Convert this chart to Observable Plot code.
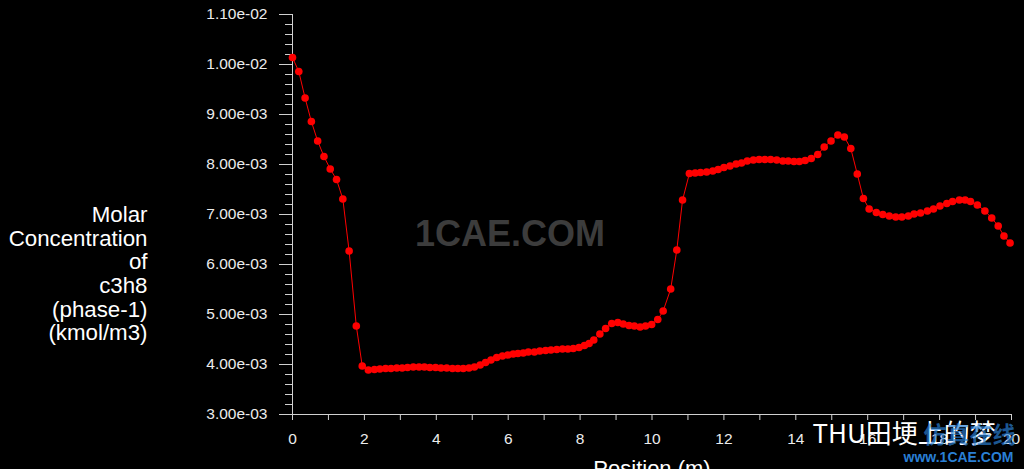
<!DOCTYPE html>
<html>
<head>
<meta charset="utf-8">
<script src="https://cdn.jsdelivr.net/npm/d3@7"></script>
<script src="https://cdn.jsdelivr.net/npm/@observablehq/plot@0.6"></script>
<style>
  html, body { margin: 0; padding: 0; background: #000; }
</style>
</head>
<body>
<div id="chart"></div>
<script>
// Position along the line (m)
const position = [
  0, 0.175, 0.35, 0.525, 0.7, 0.875, 1.05, 1.225, 1.4, 1.575, 1.775, 1.94,
  2.11, 2.28, 2.43, 2.59, 2.74, 2.90, 3.05, 3.20, 3.36, 3.52, 3.67, 3.82, 3.98,
  4.13, 4.29, 4.45, 4.60, 4.75, 4.91, 5.06, 5.22, 5.37, 5.52, 5.68, 5.84, 5.99,
  6.14, 6.27, 6.42, 6.56, 6.73, 6.88, 7.04, 7.19, 7.35, 7.51, 7.66, 7.81, 7.97,
  8.12, 8.25, 8.38, 8.55, 8.71, 8.88, 9.05, 9.20, 9.36, 9.51, 9.67, 9.82, 9.99,
  10.16, 10.31, 10.52, 10.69, 10.85, 11.04, 11.20, 11.35, 11.52, 11.69, 11.84,
  12.00, 12.17, 12.34, 12.49, 12.65, 12.82, 12.98, 13.14, 13.30, 13.47, 13.64,
  13.79, 13.95, 14.10, 14.26, 14.43, 14.61, 14.79, 14.98, 15.17, 15.35, 15.53,
  15.71, 15.88, 16.04, 16.24, 16.42, 16.60, 16.78, 16.95, 17.13, 17.29, 17.47,
  17.66, 17.83, 18.01, 18.20, 18.36, 18.55, 18.71, 18.86, 19.05, 19.26, 19.45,
  19.63, 19.79, 19.96
];
// Molar concentration of c3h8 (phase-1), kmol/m3
const concentration = [
  0.01014, 0.00986, 0.00933, 0.00886, 0.00847, 0.00816, 0.00791, 0.00770, 0.00731, 0.00627, 0.00477, 0.00397,
  0.00389, 0.00390, 0.00391, 0.00392, 0.00392, 0.00393, 0.00393, 0.00394, 0.00395, 0.00395, 0.00395, 0.00394, 0.00394,
  0.00393, 0.00393, 0.00392, 0.00392, 0.00392, 0.00393, 0.00395, 0.00399, 0.00404, 0.00409, 0.00414, 0.00417, 0.00419,
  0.00421, 0.00422, 0.00423, 0.00425, 0.00425, 0.00427, 0.00428, 0.00429, 0.00430, 0.00431, 0.00431, 0.00432, 0.00434,
  0.00438, 0.00442, 0.00449, 0.00461, 0.00472, 0.00482, 0.00484, 0.00481, 0.00478, 0.00477, 0.00475, 0.00477, 0.00480,
  0.00490, 0.00507, 0.00551, 0.00629, 0.00729, 0.00782, 0.00783, 0.00784, 0.00785, 0.00787, 0.00790,
  0.00794, 0.00797, 0.00801, 0.00803, 0.00807, 0.00809, 0.00810, 0.00810, 0.00810, 0.00809, 0.00807,
  0.00807, 0.00806, 0.00806, 0.00808, 0.00812, 0.00820, 0.00835, 0.00847, 0.00859, 0.00855, 0.00832,
  0.00781, 0.00732, 0.00711, 0.00704, 0.00700, 0.00697, 0.00695, 0.00695, 0.00697, 0.00701, 0.00703,
  0.00707, 0.00711, 0.00717, 0.00722, 0.00726, 0.00729, 0.00729, 0.00726, 0.00719, 0.00707, 0.00693,
  0.00677, 0.00657, 0.00643
];

const xTicks = [0, 2, 4, 6, 8, 10, 12, 14, 16, 18, 20];
const xMinorTicks = [1, 3, 5, 7, 9, 11, 13, 15, 17, 19];
const yTicks = [0.003, 0.004, 0.005, 0.006, 0.007, 0.008, 0.009, 0.010, 0.011];
const yMinorTicks = d3.ticks(0.003, 0.011, 40);

const yLabel = "Molar\nConcentration\nof\nc3h8\n(phase-1)\n(kmol/m3)";
const xLabel = "Position (m)";
const watermark = "1CAE.COM";
const overlayText = "THU田埂上的梦";
const overlayBlue = "仿真在线";
const overlaySite = "www.1CAE.COM";

const data = position.map((p, i) => ({x: p, y: concentration[i]}));
const fmt = v => v.toExponential(2).replace(/e([+-])(\d)$/, "e$10$2");

const axisColor = "#d0d0d0";
const textColor = "#ececec";
const font = "'Liberation Sans', Arial, sans-serif";

const chart = Plot.plot({
  width: 1024,
  height: 469,
  marginLeft: 292,
  marginRight: 13,
  marginTop: 14,
  marginBottom: 55,
  style: {
    background: "#000",
    color: textColor,
    fontFamily: font,
    fontSize: "15.5px"
  },
  x: {domain: [0, 20]},
  y: {domain: [0.003, 0.011]},
  marks: [
    Plot.text([watermark], {frameAnchor: "middle", dx: -142, dy: 20, fill: "#3c3c3c", fontSize: 36, fontWeight: "bold", fontFamily: font}),
    Plot.axisY({ticks: yMinorTicks, tickSize: 7, tickFormat: () => "", label: null, stroke: axisColor}),
    Plot.axisY({ticks: yTicks, tickSize: 13, tickPadding: 12, tickFormat: fmt, label: null, stroke: axisColor, fill: textColor, fontSize: 15.5, fontFamily: font}),
    Plot.axisX({ticks: xMinorTicks, tickSize: 6, tickFormat: () => "", label: null, stroke: axisColor}),
    Plot.axisX({ticks: xTicks, tickSize: 6, tickPadding: 12, tickFormat: d => String(d), label: null, stroke: axisColor, fill: textColor, fontSize: 15.5, fontFamily: font}),
    Plot.ruleX([0], {stroke: axisColor}),
    Plot.ruleY([0.003], {stroke: axisColor}),
    Plot.line(data, {x: "x", y: "y", stroke: "#ff0000", strokeWidth: 1}),
    Plot.dot(data, {x: "x", y: "y", r: 3.8, fill: "#ff0000", stroke: "none"}),
    Plot.text([yLabel], {frameAnchor: "left", textAnchor: "end", lineAnchor: "middle", lineHeight: 1.06, dx: -145, dy: 59, fill: "#ffffff", fontSize: 22.3, fontFamily: font}),
    Plot.text([xLabel], {frameAnchor: "bottom", lineAnchor: "top", dy: 46, fill: "#ffffff", fontSize: 22, fontFamily: font}),
    Plot.text([overlayText], {frameAnchor: "bottom-right", textAnchor: "start", dx: -199, dy: 28, fill: "#ffffff", fontSize: 26, fontFamily: "'Noto Sans CJK SC', sans-serif"}),
    Plot.text([overlayBlue], {frameAnchor: "bottom-right", textAnchor: "end", dx: 4, dy: 28, fill: "#2a7fd4", fontSize: 23, fontWeight: "bold", fontFamily: "'Noto Sans CJK SC', sans-serif", fillOpacity: 0.7}),
    Plot.text([overlaySite], {frameAnchor: "bottom-right", textAnchor: "end", dx: 2, dy: 47, fill: "#2a7fd4", fontSize: 14, fontWeight: "bold", fontFamily: font})
  ]
});

document.getElementById("chart").appendChild(chart);
</script>
</body>
</html>
